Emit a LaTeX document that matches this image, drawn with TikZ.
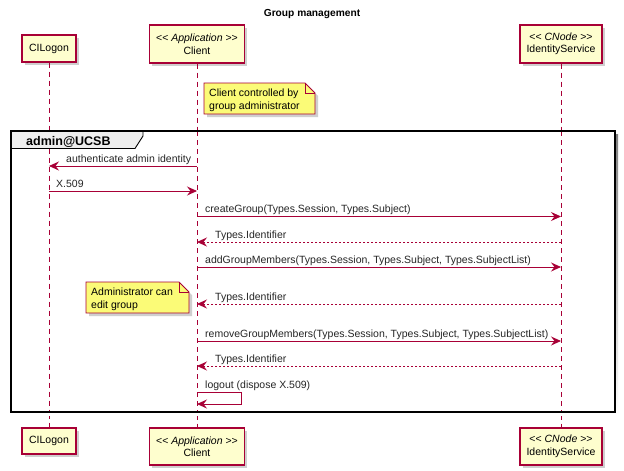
\documentclass[tikz,border=0pt]{standalone}
\usepackage{fontspec}
\setmainfont{Liberation Sans}[Ligatures=NoCommon]
\usetikzlibrary{arrows.meta}
\definecolor{pborder}{HTML}{A80036}
\definecolor{pfill}{HTML}{FEFECE}
\definecolor{nfill}{HTML}{FBFB77}
\definecolor{tabfill}{HTML}{EEEEEE}
\definecolor{shade}{HTML}{CFCFCF}
\newcommand{\lt}{\mbox{<}}
\newcommand{\gtt}{\mbox{>}}
\begin{document}
\begin{tikzpicture}[x=1pt,y=-1pt,
  every node/.style={font=\fontsize{10.5}{12.5}\selectfont},
  part/.style={draw=pborder,fill=pfill,line width=1.1pt,align=center,inner sep=0pt},
  lifeline/.style={draw=pborder,line width=0.8pt,dash pattern=on 5pt off 4pt},
  msg/.style={draw=pborder,line width=0.9pt,-{Stealth[length=10pt,width=9pt,inset=3.5pt]}},
  ret/.style={msg,dash pattern=on 2pt off 2pt},
  lbl/.style={anchor=base west,inner sep=0pt,text=black!85},
  notebox/.style={draw=pborder,fill=nfill,line width=0.9pt},
  notetext/.style={anchor=base west,inner sep=0pt,align=left},
  shadowfill/.style={fill=shade,draw=none}]
\useasboundingbox (0,0) rectangle (624,471);
\fill[white] (0,0) rectangle (624,471);

% title
\node[font=\fontsize{10.2}{12}\selectfont\bfseries] (title) at (312,14) {Group management};

% shadows of participants
\fill[shadowfill] (25,38) rectangle (79,65);
\fill[shadowfill] (152,28) rectangle (247,66);
\fill[shadowfill] (523,28) rectangle (605,66);
\fill[shadowfill] (25,431) rectangle (79,457);
\fill[shadowfill] (152,431) rectangle (247,468);
\fill[shadowfill] (523,431) rectangle (605,468);

% participants top
\node[part,minimum width=54pt,minimum height=27pt] (cil) at (49,48.5) {CILogon};
\node[part,minimum width=95pt,minimum height=38pt] (cli) at (197,44) {\lt\lt{} \textit{Application} \gtt\gtt\\Client};
\node[part,minimum width=82pt,minimum height=38pt] (ids) at (561,44) {\lt\lt{} \textit{CNode} \gtt\gtt\\IdentityService};
% participants bottom
\node[part,minimum width=54pt,minimum height=26pt] (cilb) at (49,441) {CILogon};
\node[part,minimum width=95pt,minimum height=37pt] (clib) at (197,446.5) {\lt\lt{} \textit{Application} \gtt\gtt\\Client};
\node[part,minimum width=82pt,minimum height=37pt] (idsb) at (561,446.5) {\lt\lt{} \textit{CNode} \gtt\gtt\\IdentityService};

% lifelines
\draw[lifeline] (cil.south) -- (cilb.north);
\draw[lifeline] (cli.south) -- (clib.north);
\draw[lifeline] (ids.south) -- (idsb.north);

% note 1
\fill[shadowfill] (207,86) -- (308,86) -- (318,96) -- (318,117) -- (207,117) -- cycle;
\draw[notebox] (204,83) -- (305,83) -- (315,93) -- (315,114) -- (204,114) -- cycle;
\draw[draw=pborder,line width=0.9pt] (305,83) -- (305,93) -- (315,93);
\node[notetext] (n1) at (209,109) {Client controlled by\\group administrator};

% frame
\fill[shade] (14,134) rectangle (618,415);
\fill[white] (11,131) rectangle (615,412);
\fill[tabfill] (11,131) -- (143,131) -- (143,136) -- (135,148.5) -- (11,148.5) -- cycle;
\draw[line width=0.9pt] (143,131) -- (143,136) -- (135,148.5) -- (11,148.5);
\node[font=\fontsize{12.5}{14}\selectfont\bfseries,anchor=base west,inner sep=0pt] (ftab) at (26,145) {admin@UCSB};
% lifelines inside frame
\draw[lifeline] (49,148.5) -- (49,412);
\draw[lifeline] (197,131) -- (197,412);
\draw[lifeline] (561,131) -- (561,412);
\draw[line width=1.6pt] (11,131) rectangle (615,412);

% message coordinates
\coordinate (a1) at (197,166); \coordinate (b1) at (49,166);
\coordinate (a2) at (49,191);  \coordinate (b2) at (197,191);
\coordinate (a3) at (197,216.5); \coordinate (b3) at (561,216.5);
\coordinate (a4) at (561,242); \coordinate (b4) at (197,242);
\coordinate (a5) at (197,267); \coordinate (b5) at (561,267);
\coordinate (a6) at (561,304); \coordinate (b6) at (197,304);
\coordinate (a7) at (197,341); \coordinate (b7) at (561,341);
\coordinate (a8) at (561,366); \coordinate (b8) at (197,366);
\coordinate (a9) at (197,392); \coordinate (c9) at (241,392); \coordinate (d9) at (241,404); \coordinate (b9) at (197,404);

\draw[msg] (a1) -- (b1);
\node[lbl] (l1) at (66,162) {authenticate admin identity};
\draw[msg] (a2) -- (b2);
\node[lbl] (l2) at (56,187) {X.509};
\draw[msg] (a3) -- (b3);
\node[lbl] (l3) at (205,212.5) {createGroup(Types.Session, Types.Subject)};
\draw[ret] (a4) -- (b4);
\node[lbl] (l4) at (215,238) {Types.Identifier};
\draw[msg] (a5) -- (b5);
\node[lbl] (l5) at (205,263) {addGroupMembers(Types.Session, Types.Subject, Types.SubjectList)};
\draw[ret] (a6) -- (b6);
\node[lbl] (l6) at (215,300) {Types.Identifier};
\draw[msg] (a7) -- (b7);
\node[lbl] (l7) at (205,337) {removeGroupMembers(Types.Session, Types.Subject, Types.SubjectList)};
\draw[ret] (a8) -- (b8);
\node[lbl] (l8) at (215,362) {Types.Identifier};
\draw[msg] (a9) -- (c9) -- (d9) -- (b9);
\node[lbl] (l9) at (205,388) {logout (dispose X.509)};

% note 2
\fill[shadowfill] (89,285) -- (182,285) -- (192,295) -- (192,316) -- (89,316) -- cycle;
\draw[notebox] (86,282) -- (179,282) -- (189,292) -- (189,313) -- (86,313) -- cycle;
\draw[draw=pborder,line width=0.9pt] (179,282) -- (179,292) -- (189,292);
\node[notetext] (n2) at (91,308) {Administrator can\\edit group};
\end{tikzpicture}
\end{document}
